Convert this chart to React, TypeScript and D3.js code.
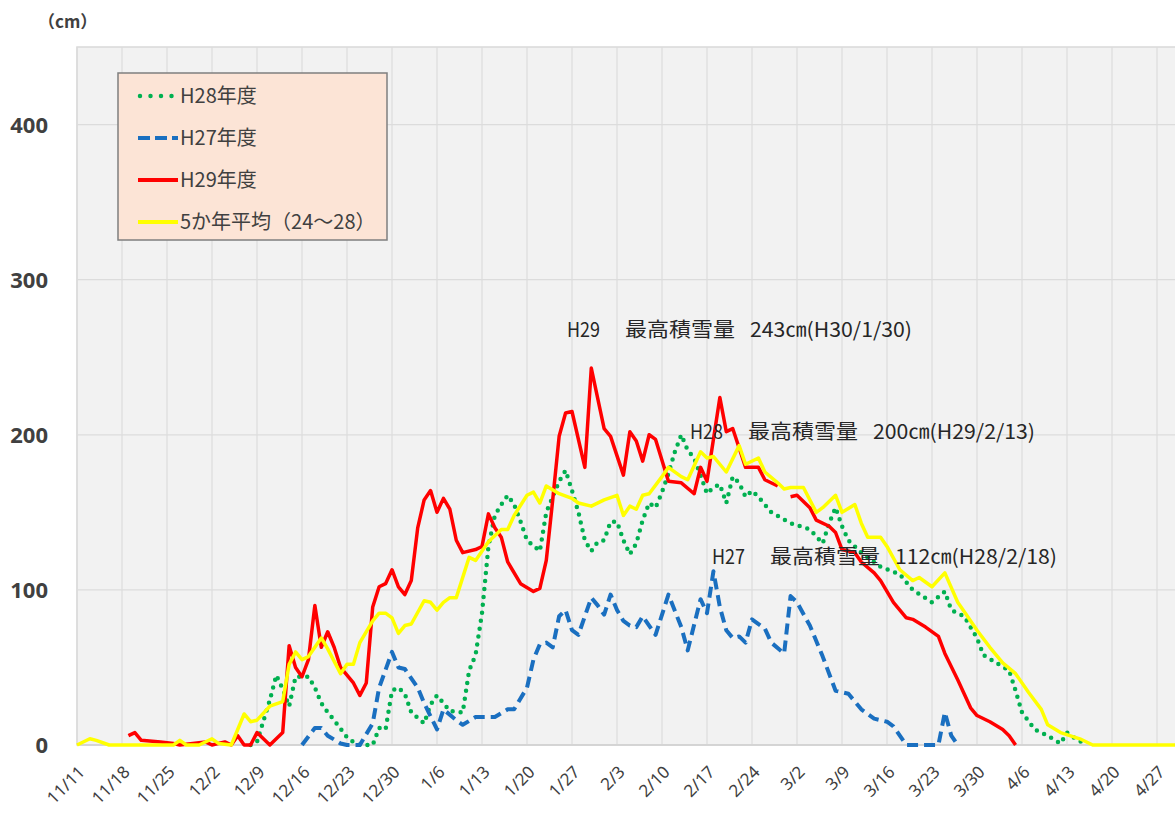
import React from "react";
import * as d3 from "d3";

type Pt = [string, number | null];

const xTickLabels = [
  "11/11", "11/18", "11/25", "12/2", "12/9", "12/16", "12/23", "12/30",
  "1/6", "1/13", "1/20", "1/27", "2/3", "2/10", "2/17", "2/24",
  "3/2", "3/9", "3/16", "3/23", "3/30", "4/6", "4/13", "4/20", "4/27",
];
const yTicks = [0, 100, 200, 300, 400];

// H28年度 (green dotted)
const H28: Pt[] = [
  ["12/8", 0], ["12/9", 2], ["12/11", 29], ["12/12", 45], ["12/13", 36], ["12/14", 25], ["12/15", 44],
  ["12/17", 44], ["12/18", 37], ["12/19", 27], ["12/20", 21], ["12/21", 16], ["12/23", 5], ["12/24", 2],
  ["12/25", 0], ["12/27", 0], ["12/28", 11], ["12/29", 10], ["12/30", 35], ["12/31", 37], ["1/1", 33],
  ["1/2", 21], ["1/4", 14], ["1/5", 26], ["1/6", 32], ["1/7", 27], ["1/8", 22], ["1/10", 21], ["1/11", 48],
  ["1/12", 58], ["1/13", 85], ["1/14", 128], ["1/15", 148], ["1/16", 155], ["1/17", 161], ["1/18", 155],
  ["1/19", 144], ["1/20", 132], ["1/22", 125], ["1/23", 150], ["1/24", 160], ["1/25", 170], ["1/26", 177],
  ["1/27", 164], ["1/28", 150], ["1/29", 132], ["1/30", 125], ["1/31", 131], ["2/1", 132], ["2/2", 144],
  ["2/3", 144], ["2/4", 132], ["2/5", 123], ["2/6", 130], ["2/7", 145], ["2/8", 156], ["2/9", 153],
  ["2/10", 163], ["2/11", 175], ["2/12", 189], ["2/13", 200], ["2/14", 190], ["2/15", 185], ["2/16", 174],
  ["2/17", 162], ["2/18", 166], ["2/19", 168], ["2/20", 156], ["2/21", 173], ["2/22", 169], ["2/23", 160],
  ["2/24", 164], ["2/25", 160], ["2/27", 150], ["3/1", 143], ["3/4", 139], ["3/6", 130], ["3/7", 143],
  ["3/8", 153], ["3/9", 141], ["3/10", 132], ["3/12", 124], ["3/15", 115], ["3/18", 110], ["3/20", 100],
  ["3/23", 92], ["3/25", 99], ["3/26", 87], ["3/28", 83], ["3/30", 69], ["3/31", 58], ["4/2", 53],
  ["4/4", 48], ["4/5", 35], ["4/6", 21], ["4/8", 10], ["4/10", 6], ["4/12", 1], ["4/13", 8], ["4/14", 5],
  ["4/16", 0],
];

// H27年度 (blue dashed)
const H27: Pt[] = [
  ["12/16", 0], ["12/18", 11], ["12/19", 11], ["12/20", 6], ["12/22", 1], ["12/23", 0], ["12/25", 0],
  ["12/27", 14], ["12/28", 37], ["12/30", 60], ["12/31", 50], ["1/1", 49], ["1/3", 37], ["1/4", 27],
  ["1/6", 10], ["1/7", 23], ["1/9", 16], ["1/10", 13], ["1/12", 18], ["1/13", 18], ["1/15", 18],
  ["1/17", 23], ["1/18", 23], ["1/20", 37], ["1/21", 55], ["1/22", 65], ["1/23", 66], ["1/24", 63],
  ["1/25", 83], ["1/26", 87], ["1/27", 74], ["1/28", 71], ["1/30", 95], ["1/31", 90], ["2/1", 84],
  ["2/2", 97], ["2/3", 87], ["2/4", 80], ["2/5", 77], ["2/6", 76], ["2/7", 83], ["2/9", 71], ["2/11", 97],
  ["2/13", 76], ["2/14", 61], ["2/16", 94], ["2/17", 85], ["2/18", 112], ["2/19", 89], ["2/20", 74],
  ["2/21", 69], ["2/22", 70], ["2/23", 66], ["2/24", 81], ["2/26", 75], ["2/27", 66], ["2/29", 59],
  ["3/1", 96], ["3/2", 92], ["3/4", 77], ["3/6", 57], ["3/8", 35], ["3/10", 33], ["3/12", 23],
  ["3/14", 17], ["3/16", 15], ["3/17", 12], ["3/19", 0], ["3/24", 0], ["3/25", 21], ["3/26", 6],
  ["3/27", 0],
];

// H29年度 (red solid)
const H29: Pt[] = [
  ["11/19", 6], ["11/20", 8], ["11/21", 3], ["11/24", 2], ["11/26", 1], ["11/27", 0], ["12/1", 2],
  ["12/2", 0], ["12/4", 2], ["12/5", 0], ["12/6", 6], ["12/7", 0], ["12/8", 0], ["12/9", 8], ["12/11", 0],
  ["12/13", 8], ["12/14", 64], ["12/15", 50], ["12/16", 44], ["12/17", 55], ["12/18", 90], ["12/19", 63],
  ["12/20", 73], ["12/21", 63], ["12/22", 50], ["12/24", 40], ["12/25", 32], ["12/26", 40], ["12/27", 89],
  ["12/28", 102], ["12/29", 104], ["12/30", 113], ["12/31", 102], ["1/1", 97], ["1/2", 106], ["1/3", 140],
  ["1/4", 158], ["1/5", 164], ["1/6", 150], ["1/7", 159], ["1/8", 152], ["1/9", 132], ["1/10", 124],
  ["1/12", 126], ["1/13", 128], ["1/14", 149], ["1/15", 140], ["1/16", 134], ["1/17", 118], ["1/19", 104],
  ["1/21", 99], ["1/22", 101], ["1/23", 119], ["1/24", 158], ["1/25", 199], ["1/26", 214], ["1/27", 215],
  ["1/29", 179], ["1/30", 243], ["2/1", 204], ["2/2", 199], ["2/4", 174], ["2/5", 202], ["2/6", 196],
  ["2/7", 183], ["2/8", 200], ["2/9", 197], ["2/11", 170], ["2/13", 169], ["2/15", 162], ["2/16", 179],
  ["2/17", 170], ["2/19", 224], ["2/20", 202], ["2/21", 204], ["2/23", 179], ["2/25", 179], ["2/26", 171],
  ["2/28", 167], ["2/29", null], ["3/1", 160], ["3/2", 161], ["3/4", 153], ["3/5", 145], ["3/7", 141],
  ["3/8", 137], ["3/9", 126], ["3/11", 124], ["3/12", 118], ["3/14", 111], ["3/15", 106], ["3/17", 92],
  ["3/19", 82], ["3/20", 81], ["3/22", 76], ["3/24", 70], ["3/25", 59], ["3/27", 42], ["3/28", 33],
  ["3/29", 24], ["3/30", 19], ["4/1", 15], ["4/3", 10], ["4/4", 6], ["4/5", 0],
];

// 5か年平均 (yellow solid)
const AVG5: Pt[] = [
  ["11/11", 0], ["11/13", 4], ["11/14", 3], ["11/16", 0], ["11/26", 0], ["11/27", 3], ["11/28", 0],
  ["11/30", 0], ["12/2", 4], ["12/3", 1], ["12/5", 0], ["12/7", 20], ["12/8", 15], ["12/9", 16],
  ["12/11", 25], ["12/13", 28], ["12/14", 52], ["12/15", 60], ["12/16", 55], ["12/17", 57], ["12/19", 69],
  ["12/20", 62], ["12/22", 46], ["12/23", 52], ["12/24", 52], ["12/25", 66], ["12/27", 80], ["12/28", 85],
  ["12/29", 85], ["12/30", 82], ["12/31", 72], ["1/1", 77], ["1/2", 78], ["1/4", 93], ["1/5", 92],
  ["1/6", 87], ["1/7", 92], ["1/8", 95], ["1/9", 95], ["1/11", 121], ["1/12", 119], ["1/14", 131],
  ["1/16", 139], ["1/17", 139], ["1/18", 148], ["1/20", 161], ["1/21", 163], ["1/22", 156], ["1/23", 167],
  ["1/25", 162], ["1/27", 159], ["1/28", 156], ["1/30", 154], ["2/1", 158], ["2/3", 161], ["2/4", 148],
  ["2/5", 154], ["2/6", 152], ["2/7", 161], ["2/8", 162], ["2/10", 173], ["2/11", 179], ["2/13", 173],
  ["2/14", 171], ["2/16", 189], ["2/17", 185], ["2/18", 186], ["2/20", 176], ["2/22", 193], ["2/23", 181],
  ["2/25", 185], ["2/26", 176], ["2/28", 169], ["2/29", 165], ["3/1", 166], ["3/3", 166], ["3/5", 150],
  ["3/6", 153], ["3/8", 161], ["3/9", 150], ["3/11", 155], ["3/12", 143], ["3/13", 134], ["3/15", 134],
  ["3/16", 128], ["3/18", 113], ["3/20", 106], ["3/21", 108], ["3/23", 102], ["3/25", 111], ["3/27", 92],
  ["3/28", 86], ["3/30", 74], ["4/1", 63], ["4/3", 53], ["4/5", 46], ["4/7", 34], ["4/9", 23], ["4/10", 13],
  ["4/12", 8], ["4/15", 4], ["4/17", 0], ["4/30", 0],
];

const toDate = (s: string) => {
  const [m, d] = s.split("/").map(Number);
  return new Date(Date.UTC(m >= 9 ? 2015 : 2016, m - 1, d));
};

const W = 1175;
const H = 820;
const PL = 77;
const PT = 47;
const PB = 745;
const PR = 1176;

export default function App() {
  const x = d3
    .scaleUtc()
    .domain([toDate("11/11"), toDate("5/2")])
    .range([PL, PL + (45 / 7) * 173]);
  const y = d3.scaleLinear().domain([0, 450]).range([PB, PT]);

  const line = d3
    .line<Pt>()
    .defined((d) => d[1] !== null)
    .x((d) => x(toDate(d[0])))
    .y((d) => y(d[1] as number));

  const tickFont = "'Noto Sans', 'Noto Sans CJK JP', sans-serif";
  const jp = "'Noto Sans CJK JP', sans-serif";

  const annot = (
    px: number,
    py: number,
    a: string,
    b: string,
    c: string,
    key: string
  ) => (
    <g key={key} fontFamily={jp} fontSize={20} fill="#262626">
      <text x={px} y={py} textLength={33} lengthAdjust="spacingAndGlyphs">{a}</text>
      <text x={px + 58} y={py} textLength={110} lengthAdjust="spacingAndGlyphs">{b}</text>
      <text x={px + 183} y={py} textLength={162} lengthAdjust="spacingAndGlyphs">{c}</text>
    </g>
  );

  return (
    <svg
      width={W}
      height={H}
      style={{ position: "absolute", left: 0, top: 0, background: "#fff" }}
    >
      <text
        x={350}
        y={-3}
        fontFamily={jp}
        fontSize={26}
        fontWeight={700}
        fill="#404040"
        textLength={440}
        lengthAdjust="spacingAndGlyphs"
      >
        H27～H29年度の積雪量の推移
      </text>
      <text x={38} y={28} fontFamily={jp} fontSize={17} fontWeight={700} fill="#404040">
        （cm）
      </text>

      <rect x={PL} y={PT} width={PR - PL} height={PB - PT} fill="#f2f2f2" stroke="#d9d9d9" strokeWidth={1.5} />
      {xTickLabels.map((t) => (
        <line key={"vg" + t} x1={x(toDate(t))} x2={x(toDate(t))} y1={PT} y2={PB} stroke="#dcdcdc" strokeWidth={1.2} />
      ))}
      {yTicks.slice(1).map((v) => (
        <line key={"hg" + v} x1={PL} x2={PR} y1={y(v)} y2={y(v)} stroke="#dcdcdc" strokeWidth={1.2} />
      ))}
      <line x1={PL} x2={PR} y1={PB} y2={PB} stroke="#d0d0d0" strokeWidth={1.5} />

      {yTicks.map((v) => (
        <text key={"yl" + v} x={48} y={y(v) + 8} textAnchor="end" fontFamily={tickFont} fontSize={22} fontWeight={700} fill="#404040">
          {v}
        </text>
      ))}
      {xTickLabels.map((t) => (
        <text
          key={"xl" + t}
          transform={`translate(${x(toDate(t)) + 9},${PB + 28}) rotate(-45)`}
          textAnchor="end"
          fontFamily={tickFont}
          fontSize={17}
          fill="#404040"
        >
          {t}
        </text>
      ))}

      <path d={line(H28) || ""} fill="none" stroke="#00b050" strokeWidth={4.5} strokeDasharray="0 8" strokeLinecap="round" strokeLinejoin="round" />
      <path d={line(H27) || ""} fill="none" stroke="#1a6fc0" strokeWidth={4} strokeDasharray="11 6" strokeLinejoin="round" />
      <path d={line(H29) || ""} fill="none" stroke="#ff0000" strokeWidth={3.5} strokeLinejoin="round" />
      <path d={line(AVG5) || ""} fill="none" stroke="#ffff00" strokeWidth={3.5} strokeLinejoin="round" />

      {annot(567, 337, "H29", "最高積雪量", "243㎝(H30/1/30)", "a29")}
      {annot(690, 439, "H28", "最高積雪量", "200㎝(H29/2/13)", "a28")}
      {annot(712, 564, "H27", "最高積雪量", "112㎝(H28/2/18)", "a27")}

      <g>
        <rect x={118} y={73} width={269} height={167} fill="#fce4d6" stroke="#7f7f7f" strokeWidth={1.5} />
        <line x1={140} x2={173} y1={96} y2={96} stroke="#00b050" strokeWidth={4.5} strokeDasharray="0 10.5" strokeLinecap="round" />
        <line x1={138} x2={178} y1={138} y2={138} stroke="#1a6fc0" strokeWidth={4} strokeDasharray="12 5" />
        <line x1={138} x2={178} y1={180} y2={180} stroke="#ff0000" strokeWidth={4} />
        <line x1={138} x2={178} y1={222} y2={222} stroke="#ffff00" strokeWidth={4} />
        <g fontFamily={jp} fontSize={20} fill="#404040">
          <text x={180} y={103}>H28年度</text>
          <text x={180} y={145}>H27年度</text>
          <text x={180} y={187}>H29年度</text>
          <text x={180} y={229}>5か年平均（24～28）</text>
        </g>
      </g>
    </svg>
  );
}
